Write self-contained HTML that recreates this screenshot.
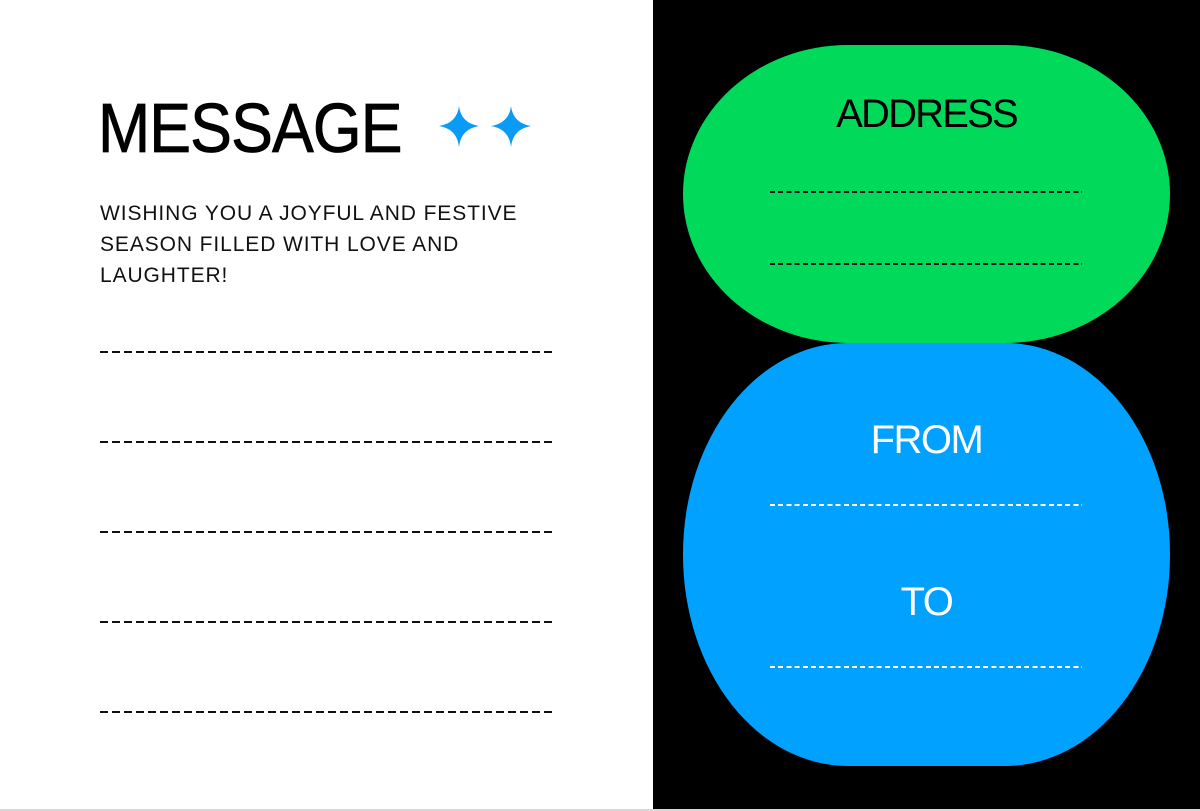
<!DOCTYPE html>
<html><head><meta charset="utf-8"><style>
*{margin:0;padding:0;box-sizing:border-box}
body{width:1200px;height:811px;position:relative;background:#fff;overflow:hidden;font-family:"Liberation Sans",sans-serif}
.abs{position:absolute}
.dl{position:absolute;height:2px;background:repeating-linear-gradient(90deg,#111 0 8px,transparent 8px 12px)}
.dg{position:absolute;height:1.5px;background:repeating-linear-gradient(90deg,#111 0 5px,transparent 5px 8.2px)}
.dw{position:absolute;height:1.5px;background:repeating-linear-gradient(90deg,#fff 0 5px,transparent 5px 8.2px)}
</style></head><body>
<div class="abs" style="left:0;top:809px;width:1200px;height:2px;background:#d8d8d8"></div>
<div class="abs" style="left:653px;top:0;width:547px;height:809px;background:#000"></div>
<div class="abs" style="left:98px;top:85px;font-size:70px;letter-spacing:-1px;line-height:86px;color:#000;transform:scaleX(0.895);transform-origin:0 0;white-space:nowrap;-webkit-text-stroke:0.8px #000">MESSAGE</div>
<svg class="abs" style="left:436px;top:104px" width="100" height="46" viewBox="0 0 100 46">
<path d="M23 2 Q25 19 43 22 Q25 25 23 43 Q21 25 3 22 Q21 19 23 2Z" fill="#0a9cf5"/>
<path d="M75 2 Q77 19 95 22 Q77 25 75 43 Q73 25 55 22 Q73 19 75 2Z" fill="#0a9cf5"/>
</svg>
<div class="abs" style="left:100px;top:198px;font-size:21px;letter-spacing:0.9px;line-height:31px;color:#111;width:440px">WISHING YOU A JOYFUL AND FESTIVE SEASON FILLED WITH LOVE AND LAUGHTER!</div>
<div class="dl" style="left:100px;top:351px;width:456px"></div>
<div class="dl" style="left:100px;top:441px;width:456px"></div>
<div class="dl" style="left:100px;top:531px;width:456px"></div>
<div class="dl" style="left:100px;top:621px;width:456px"></div>
<div class="dl" style="left:100px;top:711px;width:456px"></div>
<div class="abs" style="left:683px;top:45px;width:487px;height:298px;background:#00d95a;border-radius:165px / 149px"></div>
<div class="abs" style="left:683px;top:343px;width:487px;height:423px;background:#00a1ff;border-radius:165px / 211px"></div>
<div class="abs" style="left:683px;top:90px;width:487px;text-align:center;font-size:40px;letter-spacing:-1.8px;color:#000;line-height:48px">ADDRESS</div>
<div class="dg" style="left:770px;top:191px;width:312px"></div>
<div class="dg" style="left:770px;top:263px;width:312px"></div>
<div class="abs" style="left:683px;top:416px;width:487px;text-align:center;font-size:40px;letter-spacing:-1.5px;color:#fff;line-height:48px">FROM</div>
<div class="dw" style="left:770px;top:504px;width:312px"></div>
<div class="abs" style="left:683px;top:578px;width:487px;text-align:center;font-size:40px;letter-spacing:-1.5px;color:#fff;line-height:48px">TO</div>
<div class="dw" style="left:770px;top:666px;width:312px"></div>
</body></html>
